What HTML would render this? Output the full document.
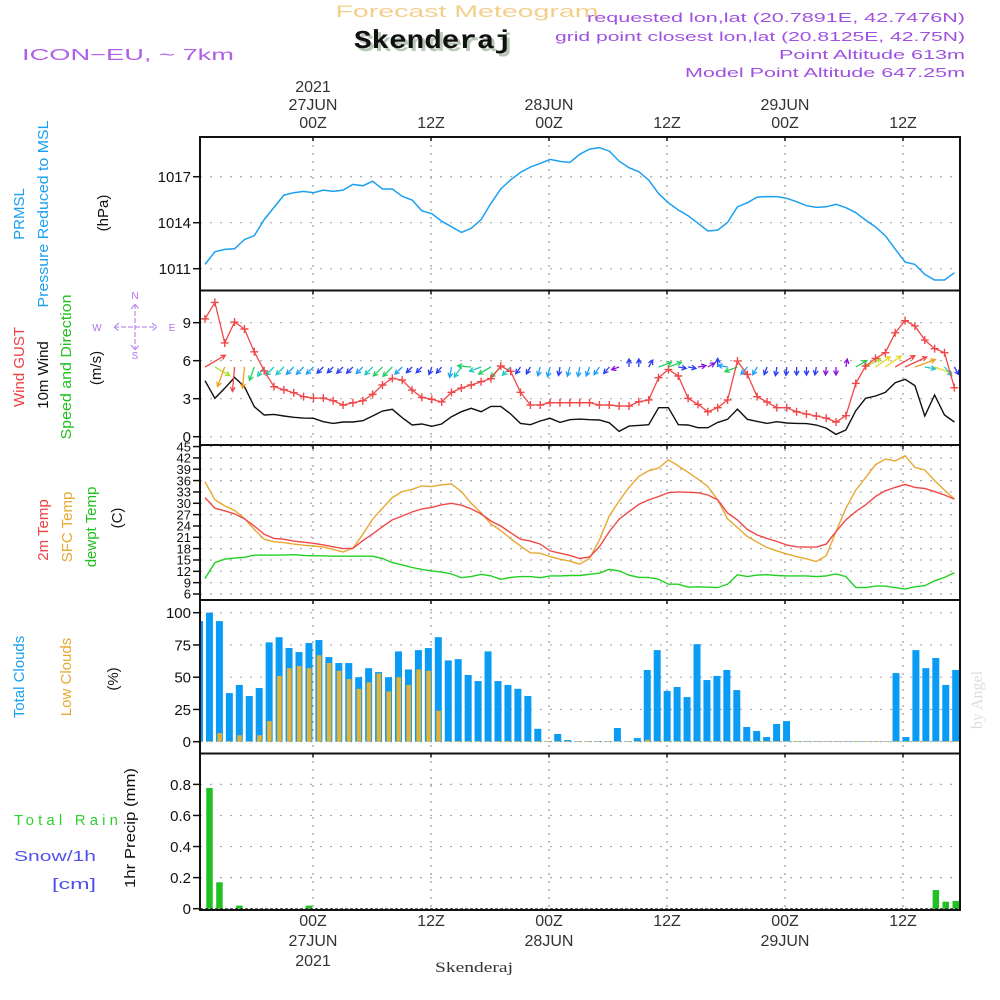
<!DOCTYPE html>
<html><head><meta charset="utf-8"><title>Forecast Meteogram Skenderaj</title>
<style>
html,body{margin:0;padding:0;background:#fff;}
svg{display:block;font-family:"Liberation Sans",sans-serif;}
</style></head>
<body>
<svg id="chart" width="1000" height="1000" viewBox="0 0 1000 1000" xmlns="http://www.w3.org/2000/svg">
<defs><clipPath id="plotclip"><rect x="201" y="137" width="758" height="773"/></clipPath></defs>
<rect x="0" y="0" width="1000" height="1000" fill="#fff"/>
<text x="467" y="17" text-anchor="middle" font-size="17" fill="#f3cf8c" textLength="263" lengthAdjust="spacingAndGlyphs">Forecast Meteogram</text>
<text x="436" y="51" text-anchor="middle" font-family="Liberation Mono, monospace" font-weight="bold" font-size="26" fill="#b8c8b8" textLength="158" lengthAdjust="spacingAndGlyphs">Skenderaj</text>
<text x="433" y="48" text-anchor="middle" font-family="Liberation Mono, monospace" font-weight="bold" font-size="26" fill="#111" textLength="158" lengthAdjust="spacingAndGlyphs">Skenderaj</text>
<text x="22" y="60" font-size="16" fill="#b060e8" textLength="212" lengthAdjust="spacingAndGlyphs">ICON−EU, ~ 7km</text>
<g font-size="13" fill="#a050e0" text-anchor="end">
<text x="965" y="22" textLength="378" lengthAdjust="spacingAndGlyphs">requested lon,lat (20.7891E, 42.7476N)</text>
<text x="965" y="41" textLength="410" lengthAdjust="spacingAndGlyphs">grid point closest lon,lat (20.8125E, 42.75N)</text>
<text x="965" y="59" textLength="186" lengthAdjust="spacingAndGlyphs">Point Altitude 613m</text>
<text x="965" y="77" textLength="280" lengthAdjust="spacingAndGlyphs">Model Point Altitude 647.25m</text>
</g>
<g id="grid"></g>
<g id="marks" clip-path="url(#plotclip)"></g>
<g id="frame"></g>
<g id="axes"></g>
<g font-size="15">
<text transform="translate(24,214) rotate(-90)" text-anchor="middle" fill="#1aa0f0">PRMSL</text>
<text transform="translate(48,214) rotate(-90)" text-anchor="middle" fill="#1aa0f0" textLength="187" lengthAdjust="spacingAndGlyphs">Pressure Reduced to MSL</text>
<text transform="translate(108,213) rotate(-90)" text-anchor="middle" fill="#111">(hPa)</text>
<text transform="translate(24,367) rotate(-90)" text-anchor="middle" fill="#f04040">Wind GUST</text>
<text transform="translate(48,375) rotate(-90)" text-anchor="middle" fill="#111">10m Wind</text>
<text transform="translate(71,367) rotate(-90)" text-anchor="middle" fill="#20c020" textLength="145" lengthAdjust="spacingAndGlyphs">Speed and Direction</text>
<text transform="translate(101,368) rotate(-90)" text-anchor="middle" fill="#111">(m/s)</text>
<text transform="translate(48,530) rotate(-90)" text-anchor="middle" fill="#f04040">2m Temp</text>
<text transform="translate(72,527) rotate(-90)" text-anchor="middle" fill="#e8a830">SFC Temp</text>
<text transform="translate(96,527) rotate(-90)" text-anchor="middle" fill="#20c020">dewpt Temp</text>
<text transform="translate(122,518) rotate(-90)" text-anchor="middle" fill="#111">(C)</text>
<text transform="translate(24,677) rotate(-90)" text-anchor="middle" fill="#1aa0f0">Total Clouds</text>
<text transform="translate(71,677) rotate(-90)" text-anchor="middle" fill="#e8a830">Low Clouds</text>
<text transform="translate(118,679) rotate(-90)" text-anchor="middle" fill="#111">(%)</text>
<text transform="translate(135,828) rotate(-90)" text-anchor="middle" fill="#111" textLength="120" lengthAdjust="spacingAndGlyphs">1hr Precip (mm)</text>
<text x="14" y="825" fill="#30d030" textLength="104" lengthAdjust="spacing">Total    Rain</text>
<text x="14" y="861" fill="#5050f0" textLength="82" lengthAdjust="spacingAndGlyphs">Snow/1h</text>
<text x="52" y="889" fill="#5050f0" textLength="44" lengthAdjust="spacingAndGlyphs">[cm]</text>
</g>
<g font-size="10" fill="#b070f0" text-anchor="middle">
<text x="135" y="299">N</text>
<text x="135" y="359">S</text>
<text x="97" y="331">W</text>
<text x="172" y="331">E</text>
<path d="M114 327 H157 M135 304 V350 M119 323 L114 327 L119 331 M152 323 L157 327 L152 331 M131 309 L135 304 L139 309 M131 345 L135 350 L139 345" stroke="#b070f0" stroke-width="1" fill="none" stroke-dasharray="5 2"/>
</g>
<text transform="translate(982,700) rotate(-90)" text-anchor="middle" font-family="Liberation Serif, serif" font-size="16" fill="#d8e0d8">by Angel</text>
<text x="474" y="972" text-anchor="middle" font-family="Liberation Serif, serif" font-size="15" fill="#333" textLength="78" lengthAdjust="spacingAndGlyphs">Skenderaj</text>
</svg>
<script>
// ---------- data ----------
const tickHours = [0, 12, 24, 36, 48, 60];
const tickHourLabels = ["00Z", "12Z", "00Z", "12Z", "00Z", "12Z"];
const tickDayLabels = ["27JUN", "", "28JUN", "", "29JUN", ""];
const pressureTicks = [1011, 1014, 1017];
const windTicks = [0, 3, 6, 9];
const tempTicks = [6, 9, 12, 15, 18, 21, 24, 27, 30, 33, 36, 39, 42, 45];
const cloudTicks = [0, 25, 50, 75, 100];
const precipTicks = [0, 0.2, 0.4, 0.6, 0.8];
const pressure = [1011.28,1012.1,1012.26,1012.3,1012.9,1013.15,1014.2,1015.0,1015.8,1015.96,1016.04,1015.96,1016.13,1016.04,1016.13,1016.5,1016.41,1016.7,1016.2,1016.2,1015.72,1015.48,1014.78,1014.59,1014.1,1013.74,1013.37,1013.63,1014.2,1015.26,1016.2,1016.8,1017.28,1017.63,1017.87,1018.13,1018.0,1017.93,1018.46,1018.8,1018.9,1018.67,1018.02,1017.59,1017.33,1016.78,1015.9,1015.3,1014.83,1014.46,1013.96,1013.46,1013.52,1014.02,1015.04,1015.3,1015.67,1015.7,1015.7,1015.59,1015.37,1015.11,1015.0,1015.04,1015.2,1014.98,1014.65,1014.17,1013.72,1013.15,1012.28,1011.43,1011.28,1010.63,1010.26,1010.26,1010.74];
const gust = [9.3,10.6,7.4,9.05,8.5,6.7,5.2,3.95,3.7,3.47,3.16,3.05,3.05,2.84,2.5,2.68,2.84,3.34,4.08,4.6,4.47,3.68,3.1,2.95,2.74,3.5,3.84,4.08,4.34,4.58,5.58,5.16,3.5,2.5,2.5,2.68,2.68,2.68,2.68,2.68,2.5,2.5,2.42,2.42,2.76,2.9,4.66,5.3,4.79,3.03,2.55,1.97,2.29,2.9,5.97,4.92,3.16,2.74,2.29,2.29,1.97,1.79,1.63,1.47,1.16,1.66,4.2,5.58,6.18,6.63,8.2,9.16,8.74,7.63,6.95,6.63,3.87];
const windSpeed = [4.42,3.03,3.82,4.68,3.95,2.37,1.71,1.76,1.63,1.53,1.47,1.45,1.18,1.05,1.16,1.16,1.26,1.63,2.03,2.16,1.5,0.92,1.0,0.82,1.0,1.58,1.97,2.24,1.97,2.39,2.39,1.79,1.05,0.95,1.24,1.45,1.13,1.34,1.39,1.34,1.32,1.1,0.42,0.84,0.89,0.95,2.29,2.29,0.95,0.92,0.71,0.71,1.13,1.37,2.18,1.37,1.21,1.05,1.18,1.08,1.05,1.03,0.92,0.68,0.18,0.53,2.05,3.03,3.21,3.5,4.26,4.53,4.03,1.63,3.29,1.71,1.16];
const windDir = [30,-30,250,265,265,250,235,225,225,225,225,225,225,225,225,225,225,225,225,225,225,225,225,250,230,260,235,175,200,210,225,225,235,240,255,255,260,255,260,250,235,230,200,90,90,60,20,20,-10,-10,10,30,90,170,200,230,240,250,260,265,270,270,260,265,270,80,30,30,35,35,30,25,20,-10,-20,-50,-60];
const temp2m = [31.5,28.7,28,27.2,25.9,24,21.8,20.7,20.5,20,19.7,19.4,19,18.5,18,18.1,20.1,21.9,23.8,25.6,26.6,27.7,28.5,28.9,29.6,30,29.5,28.5,27.2,25.3,24,22.2,20.5,20,19.2,17.4,16.8,16.2,15.4,15.8,18.5,22.5,25.8,27.8,29.7,30.9,31.8,32.8,33,32.9,32.8,32.2,30.9,27.4,25.6,23.1,21.6,20.7,19.9,19,18.5,18.4,18.4,19.2,22.5,25.6,27.8,29.6,31.8,33.3,34.2,35,34.2,33.9,33.1,32.2,31.1];
const tempSfc = [35.7,30.9,29.3,28.1,26,23.1,20.5,19.8,19.6,19.2,18.9,18.7,18.4,17.8,17.1,18.1,21.8,25.8,28.7,31.5,33.1,33.7,34.6,34.4,34.9,35.1,33.1,30,27.5,24.5,22.8,20.6,18.7,16.9,16.8,15.9,15.2,14.7,13.9,15.4,20.3,26.7,30.6,34.2,37.1,38.6,39.3,41.5,39.9,38.2,36.4,34.4,30.9,25.9,23.6,21.2,19.7,18.3,17.4,16.6,15.9,15.3,14.6,16.1,22.5,28.7,33.5,36.8,40.2,41.7,41.2,42.6,39.5,38.8,36,33.5,31.1];
const dewpt = [10.1,14.3,15.2,15.5,15.7,16.3,16.3,16.3,16.3,16.4,16.2,16.1,16.1,16,16,16,16,16,15.4,14.3,13.7,13,12.5,12.1,11.8,11.3,10.3,10.6,11.2,10.8,9.9,10.4,10.6,10.6,10.3,10.8,10.8,10.9,10.9,11.2,11.5,12.5,12.1,11,10.4,10.4,9.9,8.6,8.6,7.8,7.9,7.8,7.7,8.6,11.1,10.6,11,11.1,10.9,10.8,10.8,10.8,10.6,10.8,11.3,10.6,7.7,7.7,8.1,8.1,7.7,7.3,7.9,8.2,9.5,10.4,11.6];
const totalClouds = [93.5,100,93.5,37.7,44,35.4,41.6,77,81,72.6,69.5,76.5,78.8,65.6,61,61,50,57,54,50,70,56,71,72.6,81,63,64,51.7,47,70,47,44,41,35.4,10,0.5,6,1.3,0.5,0.5,0.5,0.5,10.6,0.5,2.8,55.6,71,39.3,42.4,34.6,75.6,47.8,51,55.6,40,11.4,8.3,3.6,13.7,16,0.5,0.5,0.5,0.5,0.5,0.5,0.5,0.5,0.5,0.5,53.2,3.6,71,57,64.9,44,55.6];
const lowClouds = [0.5,0.5,6.7,0.5,5,0.5,5,16,51,57,58.6,57,67,61,55,48.6,41,46,53,39,50,44,56,55,24,0.5,0.5,0.5,0.5,0.5,0.5,0.5,0.5,0.5,0.5,0.5,0.5,0.5,0.5,0.5,0.5,0.5,0.5,0.5,0.5,1.5,0.5,0.5,0.5,0.5,0.5,0.5,0.5,0.5,0.5,0.5,0.5,0.5,0.5,0.5,0.5,0.5,0.5,0.5,0.5,0.5,0.5,0.5,0.5,0.5,0.5,0.5,0.5,0.5,0.5,0.5,0.5];
const rain = [0,0.777,0.17,0,0.02,0,0,0,0,0,0,0.02,0,0,0,0,0,0,0,0,0,0,0,0,0,0,0,0,0,0,0,0,0,0,0,0,0,0,0,0,0,0,0,0,0,0,0,0,0,0,0,0,0,0,0,0,0,0,0,0,0,0,0,0,0,0,0,0,0,0,0,0,0,0,0.12,0.045,0.05];

// ---------- scales ----------
const PL = 200, PR = 960;
const xTime = h => 313 + h * 9.833;
const xLine = k => 205 + k * 9.86;
const xBar = i => 199.5 + i * 9.95;
const yP = p => 268.7 - (p - 1011) * 15.33;
const yW = w => 436.7 - w * 12.67;
const yT = t => 594 - (t - 6) * 3.78;
const yC = c => 741.7 - c * 1.29;
const yR = r => 908.7 - r * 155.4;
const panels = [[137, 290.5], [290.5, 445], [445, 600], [600, 753.5], [753.5, 910]];

const NS = "http://www.w3.org/2000/svg";
function mk(tag, attrs, parent) {
  const e = document.createElementNS(NS, tag);
  for (const k in attrs) e.setAttribute(k, attrs[k]);
  parent.appendChild(e);
  return e;
}
const grid = document.getElementById('grid');
const marks = document.getElementById('marks');
const frame = document.getElementById('frame');
const axes = document.getElementById('axes');

tickHours.forEach((h, j) => {
  const x = xTime(h);
  const l = mk('line', {x1: x, x2: x, y1: 137, y2: 910, stroke: '#999', 'stroke-width': 1.2, 'stroke-dasharray': '2 6'}, grid);
  
  
  const tt = mk('text', {x: x, y: 128, 'text-anchor': 'middle', 'font-size': 16, fill: '#333'}, axes);
  tt.textContent = tickHourLabels[j];
  
  
  const tb = mk('text', {x: x, y: 926, 'text-anchor': 'middle', 'font-size': 16, fill: '#333'}, axes);
  tb.textContent = tickHourLabels[j];
  
  
  if (tickDayLabels[j]) {
    const dt = mk('text', {x: x, y: 110, 'text-anchor': 'middle', 'font-size': 16, fill: '#333'}, axes);
    dt.textContent = tickDayLabels[j];
    
    
    const db = mk('text', {x: x, y: 946, 'text-anchor': 'middle', 'font-size': 16, fill: '#333'}, axes);
    db.textContent = tickDayLabels[j];
    
    
  }
  panels.forEach(p => {
    const tk = mk('line', {x1: x, x2: x, y1: p[0], y2: p[0] + 4, stroke: '#111', 'stroke-width': 1.5}, frame);
    
    
  });
});
const yr1 = mk('text', {x: xTime(0), y: 92, 'text-anchor': 'middle', 'font-size': 16, fill: '#333'}, axes);
yr1.textContent = '2021';


const yr2 = mk('text', {x: xTime(0), y: 966, 'text-anchor': 'middle', 'font-size': 16, fill: '#333'}, axes);
yr2.textContent = '2021';



function yAxis(ticks, scale, fmt, name, fs) {
  ticks.forEach(v => {
    const y = scale(v);
    const g = mk('line', {x1: PL, x2: PR, y1: y, y2: y, stroke: '#aaa', 'stroke-width': 1.2, 'stroke-dasharray': '2 8'}, grid);
    
    
    const tk = mk('line', {x1: 193, x2: PL, y1: y, y2: y, stroke: '#111', 'stroke-width': 1.5}, axes);
    
    
    const t = mk('text', {x: 191, y: y + fs * 0.36, 'text-anchor': 'end', 'font-size': fs, fill: '#111'}, axes);
    t.textContent = fmt(v);
    
    
  });
}
yAxis(pressureTicks, yP, v => String(v), 'pressure-axis', 15);
yAxis(windTicks, yW, v => String(v), 'wind-axis', 15);
yAxis(tempTicks, yT, v => String(v), 'temp-axis', 13);
yAxis(cloudTicks, yC, v => String(v), 'cloud-axis', 15);
yAxis(precipTicks, yR, v => v === 0 ? '0' : v.toFixed(1), 'precip-axis', 15);

function linePath(arr, ys) {
  return arr.map((v, k) => (k ? 'L' : 'M') + xLine(k).toFixed(1) + ' ' + ys(v).toFixed(1)).join(' ');
}
const pl = mk('path', {d: linePath(pressure, yP), fill: 'none', stroke: '#1aa0f0', 'stroke-width': 1.5}, marks);



totalClouds.forEach((v, i) => {
  const r = mk('rect', {x: xBar(i) - 3.5, y: yC(v), width: 7, height: yC(0) - yC(v), fill: '#0a9cf5'}, marks);
  
  
});
lowClouds.forEach((v, i) => {
  const r = mk('rect', {x: xBar(i) - 2, y: yC(v), width: 4.5, height: yC(0) - yC(v), fill: '#e8b030'}, marks);
  
  
});
rain.forEach((v, i) => {
  if (v <= 0) return;
  const r = mk('rect', {x: xBar(i) - 3.2, y: yR(v), width: 6.5, height: yR(0) - yR(v), fill: '#22c022'}, marks);
  
  
});
const rz = mk('line', {x1: PL, x2: PR, y1: yR(0), y2: yR(0), stroke: '#333', 'stroke-width': 1, 'stroke-dasharray': '3 2'}, marks);



const wl = mk('path', {d: linePath(windSpeed, yW), fill: 'none', stroke: '#111', 'stroke-width': 1.4}, marks);



function windColor(s) {
  if (s < 0.8) return '#8a10e0';
  if (s < 1.2) return '#2a3cf5';
  if (s < 1.6) return '#1ea0f5';
  if (s < 2.0) return '#20c8c0';
  if (s < 2.6) return '#20d060';
  if (s < 3.2) return '#a8e020';
  if (s < 3.7) return '#e8d820';
  if (s < 4.2) return '#f0a020';
  return '#f04848';
}
windSpeed.forEach((s, k) => {
  const a = windDir[k] * Math.PI / 180;
  const len = Math.max(8, 4.5 * s + 3.5);
  const x0 = xLine(k), y0 = 367;
  const x1 = x0 + len * Math.cos(a), y1 = y0 - len * Math.sin(a);
  const h = 5, b = 0.5;
  const hx1 = x1 - h * Math.cos(a - b), hy1 = y1 + h * Math.sin(a - b);
  const hx2 = x1 - h * Math.cos(a + b), hy2 = y1 + h * Math.sin(a + b);
  const p = mk('path', {d: `M${x0.toFixed(1)} ${y0} L${x1.toFixed(1)} ${y1.toFixed(1)} M${hx1.toFixed(1)} ${hy1.toFixed(1)} L${x1.toFixed(1)} ${y1.toFixed(1)} L${hx2.toFixed(1)} ${hy2.toFixed(1)}`, fill: 'none', stroke: windColor(s), 'stroke-width': 1.3}, marks);
  
  
});

const gl = mk('path', {d: linePath(gust, yW), fill: 'none', stroke: '#f04848', 'stroke-width': 1.3}, marks);


gust.forEach((v, k) => {
  const x = xLine(k), y = yW(v);
  const m = mk('path', {d: `M${x - 4} ${y} H${x + 4} M${x} ${y - 4} V${y + 4}`, stroke: '#f04848', 'stroke-width': 1.4, fill: 'none'}, marks);
  
  
});

const sl = mk('path', {d: linePath(tempSfc, yT), fill: 'none', stroke: '#e8a830', 'stroke-width': 1.4}, marks);


const tl = mk('path', {d: linePath(temp2m, yT), fill: 'none', stroke: '#f04848', 'stroke-width': 1.4}, marks);


const dl = mk('path', {d: linePath(dewpt, yT), fill: 'none', stroke: '#20d020', 'stroke-width': 1.4}, marks);



const fr = mk('rect', {x: PL, y: 137, width: PR - PL, height: 773, fill: 'none', stroke: '#111', 'stroke-width': 2}, frame);


panels.slice(1).forEach(p => {
  const l = mk('line', {x1: PL, x2: PR, y1: p[0], y2: p[0], stroke: '#111', 'stroke-width': 2}, frame);
  
  
});
</script>
</body></html>
